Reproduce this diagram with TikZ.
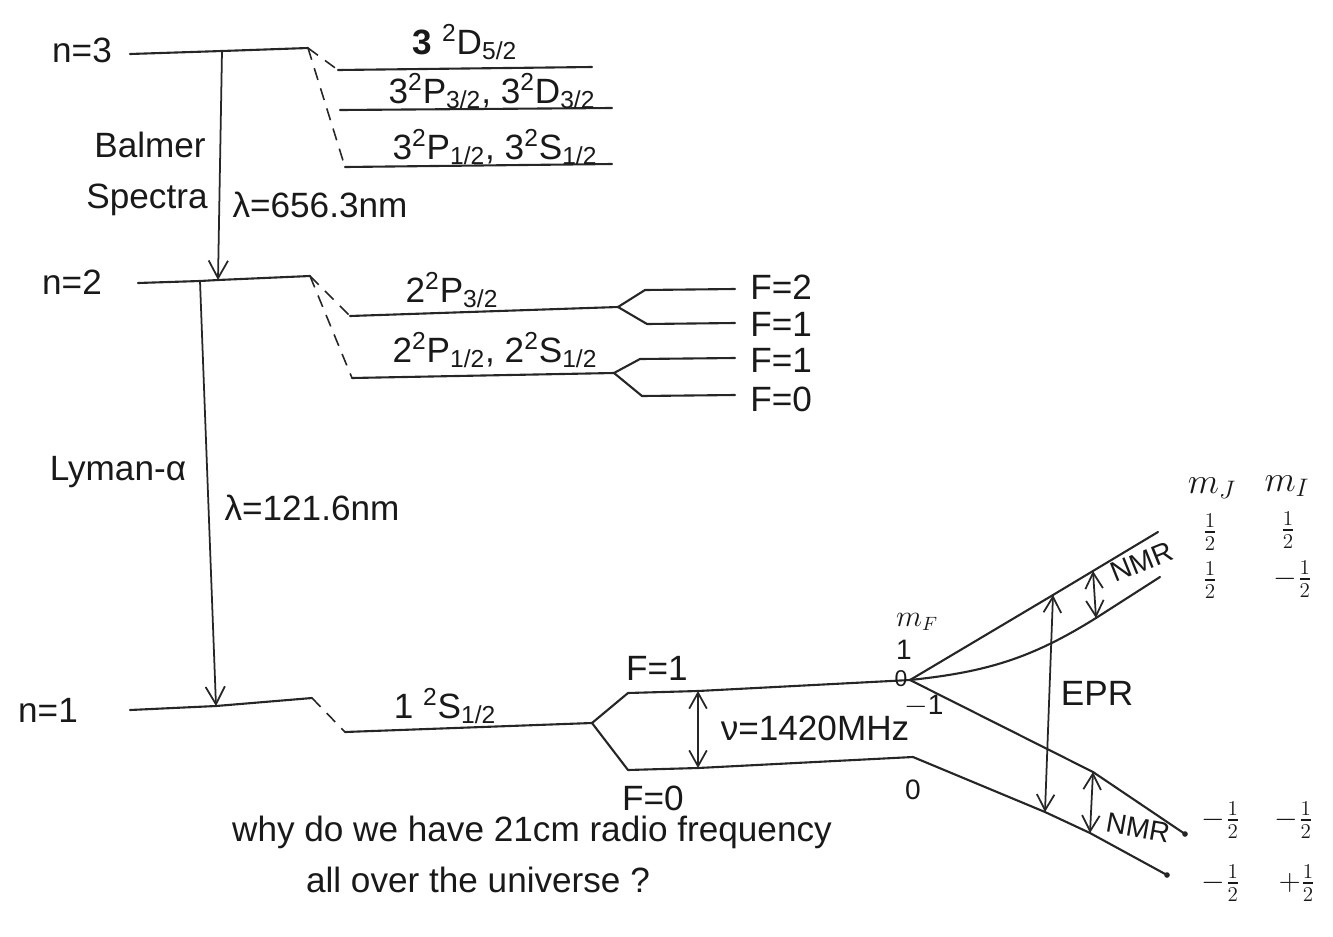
\documentclass[tikz,border=0pt]{standalone}
\usepackage{amsmath}
\usepackage{fontspec}
\setmainfont{Liberation Sans}
\usetikzlibrary{arrows.meta}
\tikzset{
  lvl/.style={line width=1.2pt, line cap=round, line join=round, draw=black!85},
  dsh/.style={line width=0.9pt, dash pattern=on 7pt off 5pt, draw=black!85},
  trn/.style={line width=1pt, draw=black!85, -{Straight Barb[length=10pt,width=11pt,line width=1pt]}},
  dbl/.style={line width=1pt, draw=black!85, {Straight Barb[length=9pt,width=10pt,line width=1pt]}-{Straight Barb[length=9pt,width=10pt,line width=1pt]}},
  txt/.style={font=\fontsize{20}{22}\selectfont, inner sep=0pt, text=black!90},
  sml/.style={font=\fontsize{16}{18}\selectfont, inner sep=0pt, text=black!90},
  tiny0/.style={font=\fontsize{13}{15}\selectfont, inner sep=0pt, text=black!90},
  frc/.style={font=\fontsize{18}{20}\selectfont, inner sep=0pt, text=black!90},
}
\begin{document}
\begin{tikzpicture}[x=0.02cm,y=-0.02cm]
\useasboundingbox (0,0) rectangle (1333,937);
% ---------- n = 3 ----------
\coordinate (n3L) at (130,54);
\coordinate (n3A) at (222,51);
\coordinate (n3R) at (308,48);
\coordinate (d1L) at (338,70);  \coordinate (d1R) at (592,67);
\coordinate (d2L) at (340,110); \coordinate (d2R) at (612,108);
\coordinate (d3L) at (345,167); \coordinate (d3R) at (612,164);
\draw[lvl] (n3L) -- (n3A) -- (n3R);
\draw[dsh] (n3R) -- (d1L);
\draw[dsh] (n3R) -- (d3L);
\draw[lvl] (d1L) -- (d1R);
\draw[lvl] (d2L) -- (d2R);
\draw[lvl] (d3L) -- (d3R);
\node[txt] (ln3) at (82,50) {n=3};
\node[txt] (t3d5) at (465,42) {\textbf{3} \textsuperscript{2}D\textsubscript{5/2}};
\node[txt] (t3p3) at (492,91) {3\textsuperscript{2}P\textsubscript{3/2}, 3\textsuperscript{2}D\textsubscript{3/2}};
\node[txt] (t3p1) at (495,147) {3\textsuperscript{2}P\textsubscript{1/2}, 3\textsuperscript{2}S\textsubscript{1/2}};
% ---------- n = 2 ----------
\coordinate (n2L) at (138,283);
\coordinate (n2B) at (200,281);
\coordinate (n2A) at (218,280);
\coordinate (n2R) at (310,276);
\coordinate (p3L) at (350,316); \coordinate (p3R) at (618,307);
\coordinate (p1L) at (352,378); \coordinate (p1R) at (614,373);
\draw[lvl] (n2L) -- (n2B) -- (n2A) -- (n2R);
\draw[dsh] (n2R) -- (p3L);
\draw[dsh] (n2R) -- (p1L);
\draw[lvl] (p3L) -- (p3R);
\draw[lvl] (p1L) -- (p1R);
\node[txt] (ln2) at (72,282) {n=2};
\node[txt] (t2p3) at (452,290) {2\textsuperscript{2}P\textsubscript{3/2}};
\node[txt] (t2p1) at (495,350) {2\textsuperscript{2}P\textsubscript{1/2}, 2\textsuperscript{2}S\textsubscript{1/2}};
% hyperfine of n=2
\coordinate (a2k) at (645,290); \coordinate (a2e) at (735,289);
\coordinate (a1k) at (647,324); \coordinate (a1e) at (735,323);
\coordinate (b1k) at (640,359); \coordinate (b1e) at (735,358);
\coordinate (b0k) at (642,396); \coordinate (b0e) at (735,395);
\draw[lvl] (p3R) -- (a2k) -- (a2e);
\draw[lvl] (p3R) -- (a1k) -- (a1e);
\draw[lvl] (p1R) -- (b1k) -- (b1e);
\draw[lvl] (p1R) -- (b0k) -- (b0e);
\node[txt, anchor=west] (fa2) at (750,287) {F=2};
\node[txt, anchor=west] (fa1) at (750,324) {F=1};
\node[txt, anchor=west] (fb1) at (750,360) {F=1};
\node[txt, anchor=west] (fb0) at (750,399) {F=0};
% ---------- transitions ----------
\draw[trn] (n3A) -- (n2A);
\node[txt] (balmer) at (150,145) {Balmer};
\node[txt] (spectra) at (147,200) {Spectra};
\node[txt] (lam1) at (320,205) {λ=656.3nm};
% ---------- n = 1 ----------
\coordinate (n1L) at (130,710);
\coordinate (n1A) at (216,706);
\coordinate (n1R) at (312,698);
\coordinate (s1L) at (345,732);
\coordinate (s1R) at (592,723);
\draw[lvl] (n1L) -- (n1A) -- (n1R);
\draw[dsh] (n1R) -- (s1L);
\draw[lvl] (s1L) -- (s1R);
\draw[trn] (n2B) -- (n1A);
\node[txt] (lyman) at (118,472) {Lyman-α};
\node[txt] (lam2) at (312,508) {λ=121.6nm};
\node[txt] (ln1) at (48,710) {n=1};
\node[txt] (t1s) at (445,706) {1 \textsuperscript{2}S\textsubscript{1/2}};
% hyperfine of n=1
\coordinate (f1k) at (628,693);
\coordinate (f1m) at (698,691);
\coordinate (zp) at (910,680);
\coordinate (f0k) at (628,770);
\coordinate (f0m) at (698,768);
\coordinate (f0e) at (913,757);
\draw[lvl] (s1R) -- (f1k) -- (f1m) -- (zp);
\draw[lvl] (s1R) -- (f0k) -- (f0m) -- (f0e);
\draw[dbl] (f1m) -- (f0m);
\node[txt] (lf1) at (657,668) {F=1};
\node[txt] (lf0) at (653,798) {F=0};
\node[txt] (nu) at (815,728) {ν=1420MHz};
% ---------- Zeeman ----------
\coordinate (z1p) at (1053,595);
\coordinate (z1n) at (1093,571);
\coordinate (z1e) at (1158,532);
\coordinate (z2m) at (1096,618);
\coordinate (z2e) at (1160,577);
\coordinate (z3m) at (1093,772);
\coordinate (z3e) at (1185,834);
\coordinate (z4a) at (1045,812);
\coordinate (z4b) at (1090,833);
\coordinate (z4e) at (1167,875);
\draw[lvl] (zp) -- (z1p) -- (z1n) -- (z1e);
\draw[lvl] (zp) to[out=6,in=212] (z2m) -- (z2e);
\draw[lvl] (zp) -- (z3m) -- (z3e);
\draw[lvl] (f0e) -- (z4a) -- (z4b) -- (z4e);
\fill[black!85] (z3e) circle (1.6pt);
\fill[black!85] (z4e) circle (1.6pt);
\draw[dbl] (z1p) -- (z4a);
\draw[dbl] (z1n) -- (z2m);
\draw[dbl] (z3m) -- (z4b);
\node[txt] (epr) at (1097,693) {EPR};
\node[sml, rotate=22] (nmr1) at (1142,562) {NMR};
\node[sml, rotate=-10] (nmr2) at (1138,828) {NMR};
% m_F labels
\node[sml] (mf) at (917,622) {$m_F$};
\node[sml] (mf1) at (904,650) {1};
\node[tiny0] (mf0) at (901,679) {0};
\node[sml] (mfm) at (924,706) {$-$1};
\node[sml] (mf00) at (913,790) {0};
% m_J m_I labels
\node[txt] (mj) at (1212,488) {$m_J$};
\node[txt] (mi) at (1287,486) {$m_I$};
\node[frc] (r1a) at (1210,532) {$\frac{1}{2}$};
\node[frc] (r1b) at (1288,530) {$\frac{1}{2}$};
\node[frc] (r2a) at (1210,580) {$\frac{1}{2}$};
\node[frc] (r2b) at (1293,579) {$-\frac{1}{2}$};
\node[frc] (r3a) at (1221,820) {$-\frac{1}{2}$};
\node[frc] (r3b) at (1294,820) {$-\frac{1}{2}$};
\node[frc] (r4a) at (1221,883) {$-\frac{1}{2}$};
\node[frc] (r4b) at (1297,883) {$+\frac{1}{2}$};
% question
\node[txt] (q1) at (532,832) {why do we have 21cm radio frequency};
\node[txt] (q2) at (478,880) {all over the universe ?};
\end{tikzpicture}
\end{document}
